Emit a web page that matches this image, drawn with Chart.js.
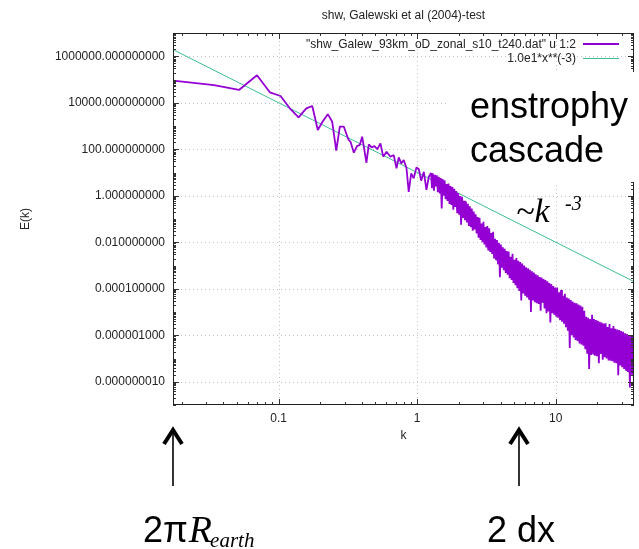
<!DOCTYPE html>
<html>
<head>
<meta charset="utf-8">
<title>shw, Galewski et al (2004)-test</title>
<script src="https://cdn.jsdelivr.net/npm/chart.js@4.4.1/dist/chart.umd.min.js"></script>
<style>
  html, body { margin: 0; padding: 0; background: #fff; }
  #wrap { position: relative; width: 639px; height: 549px; }
</style>
</head>
<body>
<div id="wrap"><canvas id="spectrum"></canvas></div>
<script>
// Kinetic energy spectrum E(k) of the shallow-water run, stored as log10 pairs
const logK = [
  -1.761, -1.466, -1.286, -1.156, -1.063, -0.986, -0.919, -0.856, -0.800, -0.757,
  -0.717, -0.683, -0.645, -0.613, -0.584, -0.558, -0.529, -0.497, -0.481, -0.457,
  -0.433, -0.414, -0.397, -0.366, -0.349, -0.329, -0.308, -0.288, -0.265, -0.245,
  -0.221, -0.193, -0.169, -0.149, -0.133, -0.115, -0.097, -0.077, -0.061, -0.043,
  -0.025, -0.005, 0.012, 0.029, 0.048, 0.067, 0.084,
  0.100, 0.107, 0.114, 0.121, 0.128, 0.135, 0.142, 0.149, 0.156, 0.163,
  0.170, 0.177, 0.184, 0.191, 0.198, 0.205, 0.212, 0.219, 0.226, 0.233,
  0.240, 0.247, 0.254, 0.261, 0.268, 0.275, 0.282, 0.289, 0.296, 0.303,
  0.310, 0.317, 0.324, 0.331, 0.338, 0.345, 0.352, 0.359, 0.366, 0.373,
  0.380, 0.387, 0.394, 0.401, 0.408, 0.415, 0.422, 0.429, 0.436, 0.443,
  0.450, 0.457, 0.464, 0.471, 0.478, 0.485, 0.492, 0.499, 0.506, 0.513,
  0.520, 0.527, 0.534, 0.541, 0.548, 0.555, 0.562, 0.569, 0.576, 0.583,
  0.590, 0.597, 0.604, 0.611, 0.618, 0.625, 0.632, 0.639, 0.646, 0.653,
  0.660, 0.667, 0.674, 0.681, 0.688, 0.695, 0.702, 0.709, 0.716, 0.723,
  0.730, 0.737, 0.744, 0.751, 0.758, 0.765, 0.772, 0.779, 0.786, 0.793,
  0.800, 0.807, 0.814, 0.821, 0.828, 0.835, 0.842, 0.849, 0.856, 0.863,
  0.870, 0.877, 0.884, 0.891, 0.898, 0.905, 0.912, 0.919, 0.926, 0.933,
  0.940, 0.947, 0.954, 0.961, 0.968, 0.975, 0.982, 0.989, 0.996, 1.003,
  1.010, 1.017, 1.024, 1.031, 1.038, 1.045, 1.052, 1.059, 1.066, 1.073,
  1.080, 1.087, 1.094, 1.101, 1.108, 1.115, 1.122, 1.129, 1.136, 1.143,
  1.150, 1.157, 1.164, 1.171, 1.178, 1.185, 1.192, 1.199, 1.206, 1.213,
  1.220, 1.227, 1.234, 1.241, 1.248, 1.255, 1.262, 1.269, 1.276, 1.283,
  1.290, 1.297, 1.304, 1.311, 1.318, 1.325, 1.332, 1.339, 1.346, 1.353,
  1.360, 1.367, 1.374, 1.381, 1.388, 1.395, 1.402, 1.409, 1.416, 1.423,
  1.430, 1.437, 1.444, 1.451, 1.458, 1.465, 1.472, 1.479, 1.486, 1.493,
  1.500, 1.507, 1.514, 1.521, 1.528, 1.535, 1.542, 1.549, 1.556, 1.563
];
const logE = [
  4.95, 4.76, 4.55, 5.18, 4.45, 4.29, 3.76, 3.37, 3.76, 3.86,
  2.83, 3.18, 3.51, 3.18, 1.94, 2.97, 2.97, 2.43, 2.32, 1.85,
  2.15, 2.18, 2.54, 1.42, 2.21, 2.08, 2.14, 2.00, 2.25, 1.68,
  1.89, 1.68, 1.75, 1.18, 1.65, 1.39, 1.54, 1.18, 0.17, 0.96,
  0.75, 1.22, 1.14, 0.65, 1.03, 0.25, 0.82,
  0.98, 0.32, 0.95, 0.22, 0.90, 0.40, 0.88, 0.15, 0.82, 0.10,
  0.76, -0.55, 0.72, 0.00, 0.66, -0.15, 0.50, -0.22, 0.52, -0.35,
  0.42, -0.40, 0.38, -0.60, 0.30, -0.48, 0.20, -0.75, 0.12, -0.82,
  -0.01, -1.25, -0.05, -0.95, -0.22, -1.05, -0.25, -1.15, -0.35, -1.30,
  -0.45, -1.35, -0.55, -1.50, -0.68, -1.45, -0.80, -1.62, -0.92, -1.80,
  -0.95, -1.90, -1.20, -2.00, -1.12, -2.10, -1.35, -2.22, -1.30, -2.35,
  -1.40, -2.42, -1.60, -2.50, -1.55, -2.70, -1.85, -2.75, -1.90, -2.95,
  -2.02, -3.50, -2.10, -3.10, -2.22, -3.20, -2.28, -3.32, -2.38, -3.40,
  -2.40, -3.55, -2.62, -3.62, -2.50, -3.75, -2.75, -3.85, -2.68, -3.98,
  -2.80, -4.10, -2.85, -4.50, -2.92, -4.20, -3.00, -4.30, -3.08, -4.38,
  -3.12, -4.45, -3.18, -5.00, -3.25, -4.50, -3.30, -4.58, -3.38, -4.62,
  -3.42, -4.65, -3.50, -4.95, -3.52, -4.60, -3.58, -4.85, -3.62, -5.05,
  -3.68, -4.98, -3.75, -5.45, -3.80, -5.05, -3.88, -5.12, -3.95, -5.20,
  -3.95, -5.25, -4.15, -5.35, -4.05, -5.42, -4.30, -5.50, -4.22, -5.65,
  -4.38, -5.80, -4.42, -6.55, -4.48, -6.00, -4.55, -6.10, -4.60, -6.20,
  -4.62, -6.25, -4.68, -6.35, -4.72, -6.40, -4.78, -6.45, -4.95, -6.60,
  -5.20, -6.80, -5.25, -7.45, -5.30, -6.85, -5.12, -6.80, -5.30, -6.88,
  -5.35, -6.90, -5.38, -7.20, -5.42, -6.80, -5.45, -7.05, -5.50, -6.95,
  -5.48, -7.00, -5.65, -7.08, -5.52, -7.10, -5.70, -7.12, -5.60, -7.18,
  -5.72, -7.20, -5.75, -7.72, -5.78, -7.30, -5.82, -7.38, -5.85, -7.45,
  -5.92, -7.50, -5.95, -7.58, -6.00, -8.25, -6.02, -7.70, -6.05, -7.82
];

// Reference slope drawn from the expression named in its legend entry
const refCoef = 10;
const refPower = -3;

const kRange = [0.0173, 36.7];
const eRange = [1e-9, 1e7];
const xTickValues = [0.1, 1, 10];
const yTickValues = [1e6, 1e4, 1e2, 1, 1e-2, 1e-4, 1e-6, 1e-8];

const chartTitle = 'shw, Galewski et al (2004)-test';
const seriesLabels = ['"shw_Galew_93km_oD_zonal_s10_t240.dat" u 1:2', '1.0e1*x**(-3)'];
const seriesColors = ['#9400d3', '#3dbd95'];

// Wavenumbers of the largest (planet circumference) and smallest (two grid cells) resolved scales
const markerK = [0.0173, 5.45];

const SANS = '"Liberation Sans", Arial, sans-serif';
const SERIF = '"Liberation Serif", "DejaVu Serif", serif';
const INK = '#222';
const axisFont = { family: SANS, size: 12 };

const spectrumPoints = logK.map((lk, i) => ({ x: 10 ** lk, y: 10 ** logE[i] }));
const slopePoints = kRange.map(k => ({ x: k, y: refCoef * k ** refPower }));

function logMarks(lo, hi, isMajor) {
  const out = [];
  for (let e = Math.floor(Math.log10(lo)) - 1; e <= Math.ceil(Math.log10(hi)); e++) {
    for (let m = 1; m <= 9; m++) {
      const v = m * Math.pow(10, e);
      if (v >= lo * 0.999 && v <= hi * 1.001) out.push({ v, major: isMajor(m, e) });
    }
  }
  return out;
}

const gnuplotFrame = {
  id: 'gnuplotFrame',
  beforeDatasetsDraw(chart) {
    const { ctx, chartArea: a, scales: { x, y } } = chart;
    ctx.save();
    ctx.strokeStyle = '#c4c4c4';
    ctx.lineWidth = 1;
    ctx.setLineDash([1, 3]);
    ctx.beginPath();
    xTickValues.forEach(v => {
      const px = Math.round(x.getPixelForValue(v)) + 0.5;
      ctx.moveTo(px, a.top); ctx.lineTo(px, a.bottom);
    });
    yTickValues.forEach(v => {
      const py = Math.round(y.getPixelForValue(v)) + 0.5;
      ctx.moveTo(a.left, py); ctx.lineTo(a.right, py);
    });
    ctx.stroke();
    ctx.restore();
  },
  afterDatasetsDraw(chart) {
    const { ctx, chartArea: a, scales: { x, y } } = chart;
    ctx.save();
    ctx.strokeStyle = '#333';
    ctx.lineWidth = 1;
    ctx.beginPath();
    logMarks(kRange[0], kRange[1], m => m === 1).forEach(t => {
      const px = Math.round(x.getPixelForValue(t.v)) + 0.5;
      const len = t.major ? 6 : 3;
      ctx.moveTo(px, a.bottom); ctx.lineTo(px, a.bottom - len);
      ctx.moveTo(px, a.top); ctx.lineTo(px, a.top + len);
    });
    logMarks(eRange[0], eRange[1], (m, e) => m === 1 && e % 2 === 0).forEach(t => {
      const py = Math.round(y.getPixelForValue(t.v)) + 0.5;
      const len = t.major ? 6 : 3;
      ctx.moveTo(a.left, py); ctx.lineTo(a.left + len, py);
      ctx.moveTo(a.right, py); ctx.lineTo(a.right - len, py);
    });
    ctx.stroke();
    ctx.strokeStyle = '#222';
    ctx.strokeRect(Math.round(a.left) + 0.5, Math.round(a.top) + 0.5,
                   Math.round(a.right - a.left) - 1, Math.round(a.bottom - a.top) - 1);
    ctx.restore();
  },
  afterDraw(chart) {
    const { ctx, chartArea: a, scales: { x } } = chart;
    ctx.save();

    // title over the plot box
    ctx.fillStyle = INK;
    ctx.font = '12px ' + SANS;
    ctx.textAlign = 'center';
    ctx.textBaseline = 'middle';
    ctx.fillText(chartTitle, (a.left + a.right) / 2, 15.5);

    // key, top right inside the frame
    ctx.textAlign = 'right';
    seriesLabels.forEach((label, i) => {
      const yy = Math.round(a.top + 11 + i * 14);
      ctx.fillStyle = INK;
      ctx.fillText(label, a.right - 58, yy + 0.5);
      ctx.strokeStyle = seriesColors[i];
      ctx.lineWidth = i === 0 ? 2 : 1;
      ctx.beginPath();
      ctx.moveTo(a.right - 51, yy + (i === 0 ? 0 : 0.5));
      ctx.lineTo(a.right - 15, yy + (i === 0 ? 0 : 0.5));
      ctx.stroke();
    });

    // text block on the upper right
    ctx.fillStyle = '#fff';
    ctx.fillRect(449, 72, 190, 110);
    ctx.fillStyle = '#000';
    ctx.textAlign = 'left';
    ctx.textBaseline = 'alphabetic';
    ctx.font = '36px ' + SANS;
    ctx.fillText('enstrophy', 470, 118);
    ctx.fillText('cascade', 470, 162);

    ctx.font = 'italic 34px ' + SERIF;
    ctx.fillText('~k', 516, 222);
    ctx.font = 'italic 20px ' + SERIF;
    ctx.fillText('-3', 565, 210);

    // arrows under the k axis
    ctx.strokeStyle = '#000';
    ctx.lineCap = 'butt';
    markerK.forEach(k => {
      const px = Math.round(x.getPixelForValue(k));
      ctx.lineWidth = 1.6;
      ctx.beginPath();
      ctx.moveTo(px, 432); ctx.lineTo(px, 486);
      ctx.stroke();
      ctx.lineWidth = 4;
      ctx.lineJoin = 'miter';
      ctx.beginPath();
      ctx.moveTo(px - 9, 444); ctx.lineTo(px, 430); ctx.lineTo(px + 9, 444);
      ctx.stroke();
    });

    ctx.fillStyle = '#000';
    ctx.font = '36px ' + SANS;
    ctx.fillText('2π', 143, 542);
    const w2pi = ctx.measureText('2π').width;
    ctx.font = 'italic 38px ' + SERIF;
    ctx.fillText('R', 143 + w2pi + 1, 542);
    const wR = ctx.measureText('R').width;
    ctx.font = 'italic 21px ' + SERIF;
    ctx.fillText('earth', 143 + w2pi + wR - 1, 547);

    ctx.font = '36px ' + SANS;
    ctx.fillText('2 dx', 487, 542);

    ctx.restore();
  }
};

new Chart(document.getElementById('spectrum'), {
  type: 'line',
  data: {
    datasets: [
      {
        label: seriesLabels[0],
        data: spectrumPoints,
        borderColor: seriesColors[0],
        borderWidth: 1.8,
        borderJoinStyle: 'bevel',
        pointRadius: 0,
        tension: 0,
        fill: false
      },
      {
        label: seriesLabels[1],
        data: slopePoints,
        borderColor: seriesColors[1],
        borderWidth: 1,
        pointRadius: 0,
        tension: 0,
        fill: false
      }
    ]
  },
  options: {
    responsive: true,
    maintainAspectRatio: false,
    animation: false,
    devicePixelRatio: 1,
    layout: { padding: { left: 0, right: 5, top: 33, bottom: 0 } },
    plugins: {
      legend: { display: false },
      title: { display: false },
      tooltip: { enabled: false }
    },
    scales: {
      x: {
        type: 'logarithmic',
        min: kRange[0],
        max: kRange[1],
        grid: { display: false, drawTicks: false },
        border: { display: false },
        afterBuildTicks: s => { s.ticks = xTickValues.map(v => ({ value: v })); },
        afterFit: s => { s.height = 144; },
        ticks: {
          autoSkip: false, maxRotation: 0, padding: 6,
          font: axisFont, color: INK,
          callback: v => String(v)
        },
        title: {
          display: true, text: 'k', font: axisFont, color: INK,
          padding: { top: 0, bottom: 106 }
        }
      },
      y: {
        type: 'logarithmic',
        min: eRange[0],
        max: eRange[1],
        grid: { display: false, drawTicks: false },
        border: { display: false },
        afterBuildTicks: s => { s.ticks = yTickValues.map(v => ({ value: v })); },
        afterFit: s => { s.width = 173; },
        ticks: {
          autoSkip: false, padding: 8,
          font: axisFont, color: INK,
          callback: v => Number(v).toFixed(9)
        },
        title: {
          display: true, text: 'E(k)', font: axisFont, color: INK,
          padding: { top: 18, bottom: 0 }
        }
      }
    }
  },
  plugins: [gnuplotFrame]
});
</script>
</body>
</html>
